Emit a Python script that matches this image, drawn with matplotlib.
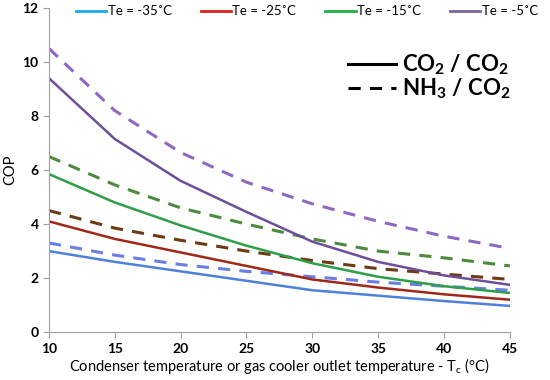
import matplotlib.pyplot as plt
from matplotlib.lines import Line2D

plt.rcParams['font.family'] = ['Lato', 'DejaVu Sans']

tc = [10, 15, 20, 25, 30, 35, 40, 45]
labels = ["Te = -35˚C", "Te = -25˚C", "Te = -15˚C", "Te = -5˚C"]

co2_m35 = [3.0, 2.6, 2.25, 1.9, 1.55, 1.35, 1.15, 0.97]
co2_m25 = [4.1, 3.45, 2.95, 2.45, 1.95, 1.65, 1.4, 1.2]
co2_m15 = [5.85, 4.8, 3.95, 3.2, 2.55, 2.05, 1.7, 1.45]
co2_m5 = [9.4, 7.15, 5.6, 4.45, 3.35, 2.6, 2.1, 1.75]

nh3_m35 = [3.3, 2.85, 2.5, 2.25, 2.05, 1.85, 1.7, 1.55]
nh3_m25 = [4.5, 3.85, 3.4, 3.0, 2.65, 2.35, 2.15, 1.95]
nh3_m15 = [6.5, 5.45, 4.6, 4.0, 3.45, 3.0, 2.75, 2.45]
nh3_m5 = [10.5, 8.2, 6.65, 5.55, 4.75, 4.1, 3.55, 3.1]

legend_colors = ["#1ca9e8", "#e02020", "#20b040", "#8060a0"]
solid_colors = ["#4f80dc", "#a02818", "#2e9e48", "#6e4e98"]
dash_colors = ["#6a7ee8", "#6e3a12", "#4e8a3e", "#9068c0"]

fig = plt.figure(figsize=(5.5, 3.8), dpi=100)
ax = fig.add_axes([0.089, 0.126, 0.838, 0.853])

co2 = [co2_m35, co2_m25, co2_m15, co2_m5]
nh3 = [nh3_m35, nh3_m25, nh3_m15, nh3_m5]
for i in range(4):
    ax.plot(tc, co2[i], color=solid_colors[i], lw=1.8)
    ax.plot(tc, nh3[i], color=dash_colors[i], lw=2.2, dashes=(4, 3))

ax.set_xlim(10, 45)
ax.set_ylim(0, 12)
ax.set_xticks(range(10, 46, 5))
ax.set_yticks(range(0, 13, 2))
for s in ["top", "right"]:
    ax.spines[s].set_visible(False)
for s in ["left", "bottom"]:
    ax.spines[s].set_color("#a0a0a0")
ax.tick_params(colors="#a0a0a0", labelcolor="black", length=4, labelsize=10)
for lab in ax.get_xticklabels() + ax.get_yticklabels():
    lab.set_fontweight("bold")

ax.set_ylabel("COP", fontsize=10.5)
ax.set_xlabel("Condenser temperature or gas cooler outlet temperature - T$_\\mathregular{c}$ (\u00b0C)", fontsize=10.5, labelpad=1)

handles = [Line2D([0], [0], color=c, lw=2) for c in legend_colors]
leg1 = ax.legend(handles, labels, ncol=4, frameon=False, loc="upper center",
                 bbox_to_anchor=(0.56, 1.045), fontsize=9.5, handlelength=2.3,
                 handletextpad=0.1, columnspacing=2.2)
ax.add_artist(leg1)

h2 = [Line2D([0], [0], color="black", lw=2.2),
      Line2D([0], [0], color="black", lw=2.2, dashes=(4, 3))]
ax.legend(h2, ["CO$_\\mathregular{2}$ / CO$_\\mathregular{2}$", "NH$_\\mathregular{3}$ / CO$_\\mathregular{2}$"],
          frameon=False, loc="upper right", bbox_to_anchor=(1.045, 0.925),
          handlelength=2.2, handletextpad=0.25, labelspacing=0.0,
          prop={"weight": "bold", "size": 16})

fig.savefig("out.png", dpi=100)
